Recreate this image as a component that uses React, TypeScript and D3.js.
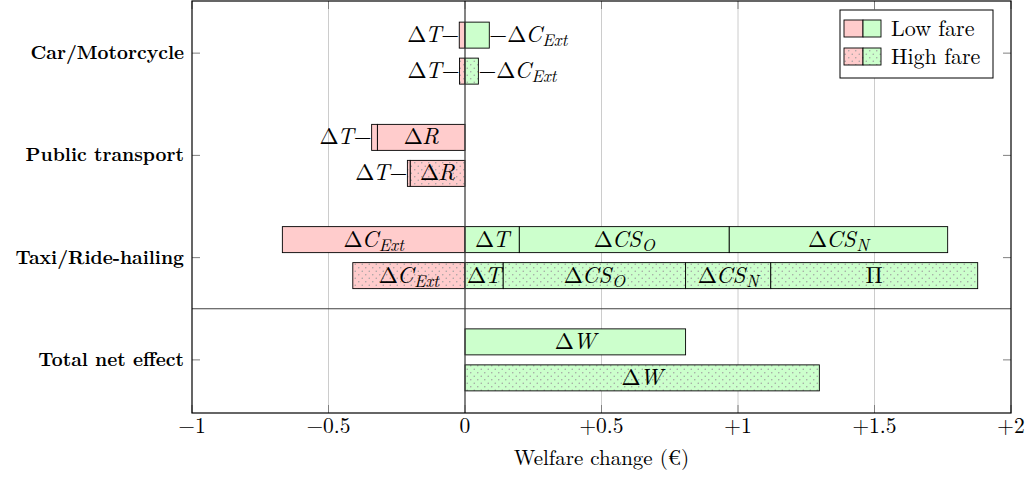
import React from "react";
import * as d3 from "d3";

// ---------- data ----------
const categories = ["Car/Motorcycle", "Public transport", "Taxi/Ride-hailing", "Total net effect"];
const fares = ["Low fare", "High fare"];
const xTicks = [-1, -0.5, 0, 0.5, 1, 1.5, 2];
const xTickLabels = ["\u22121", "\u22120.5", "0", "+0.5", "+1", "+1.5", "+2"];

// segment labels: T, CExt, R, CSO, CSN, Pi, W
const carLabels = ["T", "CExt"];
const carLow = [-0.021, 0.089];
const carHigh = [-0.020, 0.049];
const carPlacement = ["left", "right"];

const ptLabels = ["R", "T"];
const ptLow = [-0.321, -0.021];
const ptHigh = [-0.201, -0.010];
const ptPlacement = ["in", "left"];

const taxiLowLabels = ["CExt", "T", "CSO", "CSN"];
const taxiLow = [-0.669, 0.199, 0.769, 0.800];
const taxiHighLabels = ["CExt", "T", "CSO", "CSN", "Pi"];
const taxiHigh = [-0.411, 0.140, 0.668, 0.312, 0.758];

const totalLabels = ["W"];
const totalLow = [0.808];
const totalHigh = [1.298];

// ---------- layout ----------
const W = 1032, H = 477;
const left = 192, right = 1011, top = 1, bottom = 413;
const x = d3.scaleLinear().domain([-1, 2]).range([left, right]);
const y = d3.scaleBand<string>().domain(categories).range([2, 411]);
const barH = 26;
const off = 18;

const RED = "#ffcccc";
const GREEN = "#ccffcc";
const LM = "Latin Modern Roman";
const MATH_FS = 23;
const SUB_FS = 17;
const TXT = { fontFamily: LM };

type Bar = {
  cat: string;
  fare: number;
  values: number[];
  labels: string[];
  placement: string[];
};

const bars: Bar[] = [
  { cat: categories[0], fare: 0, values: carLow, labels: carLabels, placement: carPlacement },
  { cat: categories[0], fare: 1, values: carHigh, labels: carLabels, placement: carPlacement },
  { cat: categories[1], fare: 0, values: ptLow, labels: ptLabels, placement: ptPlacement },
  { cat: categories[1], fare: 1, values: ptHigh, labels: ptLabels, placement: ptPlacement },
  { cat: categories[2], fare: 0, values: taxiLow, labels: taxiLowLabels, placement: taxiLowLabels.map(() => "in") },
  { cat: categories[2], fare: 1, values: taxiHigh, labels: taxiHighLabels, placement: taxiHighLabels.map(() => "in") },
  { cat: categories[3], fare: 0, values: totalLow, labels: totalLabels, placement: ["in"] },
  { cat: categories[3], fare: 1, values: totalHigh, labels: totalLabels, placement: ["in"] },
];

const SUB_DY = 4;

function MathLabel({ k, prefix = "", suffix = "" }: { k: string; prefix?: string; suffix?: string }) {
  const it = { fontStyle: "italic" as const };
  const sub = (s: string) => (
    <tspan style={it} fontSize={SUB_FS} dy={SUB_DY} dx={0.5}>{s}</tspan>
  );
  const D = <tspan>Δ</tspan>;
  let body: React.ReactNode;
  switch (k) {
    case "T": body = <>{D}<tspan style={it} dx={-1.5}>T</tspan></>; break;
    case "R": body = <>{D}<tspan style={it} dx={-1}>R</tspan></>; break;
    case "W": body = <>{D}<tspan style={it} dx={-1}>W</tspan></>; break;
    case "Pi": body = <tspan>Π</tspan>; break;
    case "CExt": body = <>{D}<tspan style={it} dx={-1}>C</tspan>{sub("Ext")}</>; break;
    case "CSO": body = <>{D}<tspan style={it} dx={-1}>CS</tspan>{sub("O")}</>; break;
    case "CSN": body = <>{D}<tspan style={it} dx={-1}>CS</tspan>{sub("N")}</>; break;
    default: body = null;
  }
  const hasSub = k === "CExt" || k === "CSO" || k === "CSN";
  return (
    <>
      {prefix && <tspan>{prefix}</tspan>}
      {body}
      {suffix && <tspan dy={hasSub ? -SUB_DY : 0}>{suffix}</tspan>}
    </>
  );
}

function BarGroup({ b }: { b: Bar }) {
  const cy = (y(b.cat) as number) + y.bandwidth() / 2 + (b.fare === 0 ? -off : off);
  const y0 = cy - barH / 2;
  let pos = 0, neg = 0;
  const segs = b.values.map((v, i) => {
    let a: number, c: number;
    if (v >= 0) { a = pos; c = pos + v; pos = c; }
    else { a = neg + v; c = neg; neg = a; }
    return { a, c, v, label: b.labels[i], place: b.placement[i] };
  });
  const minX = x(neg), maxX = x(pos);
  const fillFor = (v: number) => {
    if (b.fare === 0) return v < 0 ? RED : GREEN;
    return v < 0 ? "url(#dotsRed)" : "url(#dotsGreen)";
  };
  return (
    <g>
      {segs.map((s, i) => (
        <rect key={"r" + i} x={x(s.a)} y={y0} width={x(s.c) - x(s.a)} height={barH}
          fill={fillFor(s.v)} stroke="#000" strokeWidth={0.9} />
      ))}
      {segs.map((s, i) => {
        const ty = cy + 7;
        if (s.place === "in") {
          return (
            <text key={"t" + i} x={(x(s.a) + x(s.c)) / 2} y={ty} textAnchor="middle"
              style={TXT} fontSize={MATH_FS}>
              <MathLabel k={s.label} />
            </text>
          );
        }
        if (s.place === "left") {
          return (
            <text key={"t" + i} x={minX} y={ty} textAnchor="end" style={TXT} fontSize={MATH_FS}>
              <MathLabel k={s.label} suffix={"\u2212"} />
            </text>
          );
        }
        return (
          <text key={"t" + i} x={maxX} y={ty} textAnchor="start" style={TXT} fontSize={MATH_FS}>
            <MathLabel k={s.label} prefix={"\u2212"} />
          </text>
        );
      })}
    </g>
  );
}

function DotPattern({ id, bg }: { id: string; bg: string }) {
  return (
    <pattern id={id} width={7} height={7} patternUnits="userSpaceOnUse">
      <rect width={7} height={7} fill={bg} />
      <circle cx={1.75} cy={1.75} r={0.75} fill="#a0a0a0" />
      <circle cx={5.25} cy={5.25} r={0.75} fill="#a0a0a0" />
    </pattern>
  );
}

export default function App() {
  const sepY = (y(categories[3]) as number);
  return (
    <svg width={W} height={H} style={{ position: "absolute", left: 0, top: 0, background: "#fff" }}>
      <defs>
        <DotPattern id="dotsRed" bg={RED} />
        <DotPattern id="dotsGreen" bg={GREEN} />
      </defs>
      <rect x={0} y={0} width={W} height={H} fill="#fff" />
      {/* grid */}
      {xTicks.filter((t) => t > -1 && t < 2 && t !== 0).map((t) => (
        <line key={"g" + t} x1={x(t)} x2={x(t)} y1={top} y2={bottom} stroke="#cccccc" strokeWidth={1} />
      ))}
      {/* ticks */}
      {xTicks.map((t, i) => (
        <g key={"tk" + t}>
          <line x1={x(t)} x2={x(t)} y1={bottom} y2={bottom - 8} stroke="#808080" strokeWidth={1} />
          <line x1={x(t)} x2={x(t)} y1={top} y2={top + 8} stroke="#808080" strokeWidth={1} />
          <text x={x(t)} y={433} textAnchor="middle" style={TXT} fontSize={21.5}>{xTickLabels[i]}</text>
        </g>
      ))}
      {categories.map((c) => {
        const cy = (y(c) as number) + y.bandwidth() / 2;
        return (
          <g key={c}>
            <line x1={left} x2={left + 8} y1={cy} y2={cy} stroke="#808080" strokeWidth={1} />
            <line x1={right} x2={right - 8} y1={cy} y2={cy} stroke="#808080" strokeWidth={1} />
            <text x={184} y={cy + 6} textAnchor="end" style={TXT} fontWeight="bold" fontSize={19}>{c}</text>
          </g>
        );
      })}
      {/* bars */}
      {bars.map((b, i) => <BarGroup key={i} b={b} />)}
      {/* zero line */}
      <line x1={x(0)} x2={x(0)} y1={top} y2={bottom} stroke="#404040" strokeWidth={1.3} />
      {/* separator */}
      <line x1={left} x2={right} y1={sepY} y2={sepY} stroke="#404040" strokeWidth={1.2} />
      {/* frame */}
      <rect x={left} y={top} width={right - left} height={bottom - top} fill="none" stroke="#000" strokeWidth={1.2} />
      {/* axis title */}
      <text x={(left + right) / 2} y={465} textAnchor="middle" style={TXT} fontSize={21}>Welfare change (€)</text>
      {/* legend */}
      <g>
        <rect x={840} y={10} width={153} height={68} fill="#fff" stroke="#000" strokeWidth={1} />
        {fares.map((f, i) => {
          const sy = 20 + i * 28;
          return (
            <g key={f}>
              <rect x={844} y={sy} width={19} height={17} fill={i === 0 ? RED : "url(#dotsRed)"} stroke="#000" strokeWidth={0.9} />
              <rect x={863} y={sy} width={18} height={17} fill={i === 0 ? GREEN : "url(#dotsGreen)"} stroke="#000" strokeWidth={0.9} />
              <text x={891} y={sy + 16} style={TXT} fontSize={22}>{f}</text>
            </g>
          );
        })}
      </g>
    </svg>
  );
}
